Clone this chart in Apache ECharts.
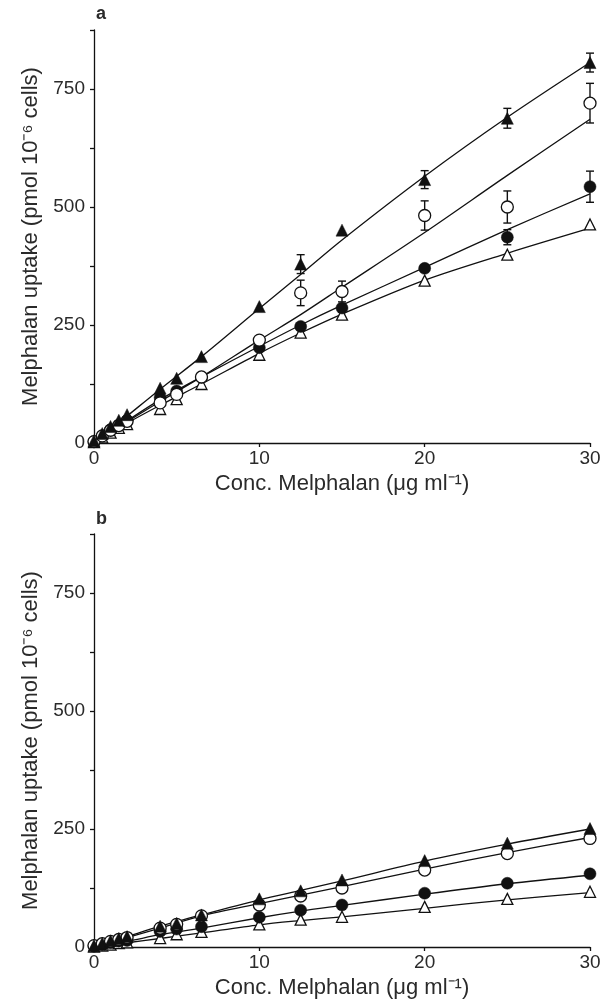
<!DOCTYPE html>
<html>
<head>
<meta charset="utf-8">
<script src="https://cdn.jsdelivr.net/npm/echarts@6/dist/echarts.min.js"></script>
<style>
html,body{margin:0;padding:0;background:#fff;}
#c{width:606px;height:1003px;}
</style>
</head>
<body>
<div id="c"></div>
<script>
// ---------- DATA ----------
const conc = [0, 0.5, 1, 1.5, 2, 4, 5, 6.5, 10, 12.5, 15, 20, 25, 30];
const fitConc = [0, 2, 4, 6.5, 10, 12.5, 15, 20, 25, 30];
const yTicks = [0, 250, 500, 750];

// Panel a – points
const aFilledTri  = [5, 20, 35, 48, 60, 116, 137, 183, 289, 379, 451, 558, 688, 806];
const aOpenCirc   = [3, 15, 27, 37, 46, 85, 103, 140, 218, 318, 321, 482, 500, 720];
const aFilledCirc = [3, 15, 28, 38, 48, 96, 110, 139, 202, 247, 286, 370, 436, 543];
const aOpenTri    = [2, 12, 22, 32, 40, 72, 93, 125, 187, 234, 272, 344, 399, 463];
// Panel a – fitted curves
const aFitFilledTri  = [0, 57, 114, 183, 285, 357, 430, 565, 690, 806];
const aFitOpenCirc   = [0, 45, 88, 140, 218, 272, 330, 446, 567, 686];
const aFitFilledCirc = [0, 47, 92, 140, 205, 250, 292, 372, 452, 528];
const aFitOpenTri    = [0, 42, 80, 125, 190, 233, 273, 345, 402, 455];
// Panel a – error bars (x, ± value)
const aErrFilledTriX  = [12.5, 20, 25, 30];
const aErrFilledTri   = [20, 19, 21, 20];
const aErrOpenCircX   = [12.5, 15, 20, 25, 30];
const aErrOpenCirc    = [27, 22, 31, 34, 42];
const aErrFilledCircX = [25, 30];
const aErrFilledCirc  = [16, 33];

// Panel b – points
const bFilledTri  = [3, 8, 13, 18, 22, 44, 50, 68, 102, 119, 142, 183, 220, 251];
const bOpenCirc   = [3, 7, 12, 16, 20, 40, 48, 66, 89, 108, 125, 163, 198, 230];
const bFilledCirc = [2, 5, 9, 12, 14, 33, 38, 43, 63, 78, 89, 114, 135, 155];
const bOpenTri    = [1, 3, 5, 8, 10, 19, 27, 32, 48, 58, 64, 85, 102, 117];
// Panel b – fitted curves
const bFitFilledTri  = [0, 22, 44, 68, 100, 120, 140, 182, 218, 250];
const bFitOpenCirc   = [0, 20, 40, 66, 92, 110, 128, 165, 200, 232];
const bFitFilledCirc = [0, 12, 26, 40, 62, 76, 88, 112, 134, 152];
const bFitOpenTri    = [0, 9, 18, 30, 47, 56, 64, 82, 100, 115];

// ---------- BUILD ----------
const INK = '#111';
const TXT = '#2a2a2a';
const FONT = 'Liberation Sans, Arial, Helvetica, sans-serif';

function pairs(xs, ys) { return xs.map((x, i) => [x, ys[i]]); }

function fitLine(idx, ys) {
  return {
    type: 'line', xAxisIndex: idx, yAxisIndex: idx,
    data: pairs(fitConc, ys), smooth: 0.3, symbol: 'none',
    lineStyle: { color: INK, width: 1.3 }, z: 2, silent: true
  };
}
function points(idx, ys, sym, filled, size) {
  return {
    type: 'scatter', xAxisIndex: idx, yAxisIndex: idx,
    data: pairs(conc, ys), symbol: sym, symbolSize: size,
    itemStyle: filled ? { color: INK, borderColor: INK, borderWidth: 0.5, opacity: 1 }
                      : { color: '#fff', borderColor: INK, borderWidth: 1.3, opacity: 1 },
    z: 5, silent: true
  };
}
function errBars(idx, xs, errs, ys) {
  const data = xs.map((x, i) => {
    const v = ys[conc.indexOf(x)];
    return [x, v - errs[i], v + errs[i]];
  });
  return {
    type: 'custom', xAxisIndex: idx, yAxisIndex: idx, data: data, z: 4, silent: true,
    renderItem: function (params, api) {
      const lo = api.coord([api.value(0), api.value(1)]);
      const hi = api.coord([api.value(0), api.value(2)]);
      const w = 4;
      const st = { stroke: INK, lineWidth: 1.4 };
      return {
        type: 'group', children: [
          { type: 'line', shape: { x1: lo[0], y1: lo[1], x2: hi[0], y2: hi[1] }, style: st },
          { type: 'line', shape: { x1: lo[0] - w, y1: lo[1], x2: lo[0] + w, y2: lo[1] }, style: st },
          { type: 'line', shape: { x1: hi[0] - w, y1: hi[1], x2: hi[0] + w, y2: hi[1] }, style: st }
        ]
      };
    }
  };
}

function xAxis(idx) {
  return {
    type: 'value', gridIndex: idx, min: 0, max: 30, interval: 10,
    name: 'Conc. Melphalan (\u03bcg ml\u207b\u00b9)', nameLocation: 'middle', nameGap: 30,
    nameTextStyle: { fontFamily: FONT, fontSize: 22, color: TXT },
    axisLine: { lineStyle: { color: INK, width: 1.3 } },
    axisTick: { show: true, length: 4, lineStyle: { color: INK, width: 1.3 } },
    axisLabel: { fontFamily: FONT, fontSize: 19, color: TXT, margin: 6 },
    splitLine: { show: false }
  };
}
function yAxis(idx) {
  return {
    type: 'value', gridIndex: idx, min: 0, max: 875, interval: 125,
    name: 'Melphalan uptake (pmol 10\u207b\u2076 cells)', nameLocation: 'middle', nameGap: 50,
    nameTextStyle: { fontFamily: FONT, fontSize: 22, color: TXT },
    axisLine: { lineStyle: { color: INK, width: 1.3 } },
    axisTick: { show: true, length: 4, lineStyle: { color: INK, width: 1.3 } },
    axisLabel: {
      fontFamily: FONT, fontSize: 19, color: TXT, margin: 9,
      formatter: v => (yTicks.indexOf(v) >= 0 ? String(v) : '')
    },
    splitLine: { show: false }
  };
}

const option = {
  backgroundColor: '#fff',
  animation: false,
  title: [
    { text: 'a', left: 91, top: 0, textStyle: { fontFamily: FONT, fontSize: 18, fontWeight: 'bold', color: TXT } },
    { text: 'b', left: 91, top: 505, textStyle: { fontFamily: FONT, fontSize: 18, fontWeight: 'bold', color: TXT } }
  ],
  grid: [
    { left: 94, right: 16, top: 30, height: 413 },
    { left: 94, right: 16, top: 534, height: 413 }
  ],
  xAxis: [xAxis(0), xAxis(1)],
  yAxis: [yAxis(0), yAxis(1)],
  series: [
    fitLine(0, aFitFilledTri), fitLine(0, aFitOpenCirc), fitLine(0, aFitFilledCirc), fitLine(0, aFitOpenTri),
    errBars(0, aErrFilledTriX, aErrFilledTri, aFilledTri),
    errBars(0, aErrOpenCircX, aErrOpenCirc, aOpenCirc),
    errBars(0, aErrFilledCircX, aErrFilledCirc, aFilledCirc),
    points(0, aOpenTri, 'triangle', false, 11),
    points(0, aFilledCirc, 'circle', true, 12),
    points(0, aOpenCirc, 'circle', false, 12),
    points(0, aFilledTri, 'triangle', true, 12),

    fitLine(1, bFitFilledTri), fitLine(1, bFitOpenCirc), fitLine(1, bFitFilledCirc), fitLine(1, bFitOpenTri),
    points(1, bOpenTri, 'triangle', false, 11),
    points(1, bFilledCirc, 'circle', true, 12),
    points(1, bOpenCirc, 'circle', false, 12),
    points(1, bFilledTri, 'triangle', true, 12)
  ]
};

const chart = echarts.init(document.getElementById('c'), null, { renderer: 'canvas' });
chart.setOption(option);
</script>
</body>
</html>
